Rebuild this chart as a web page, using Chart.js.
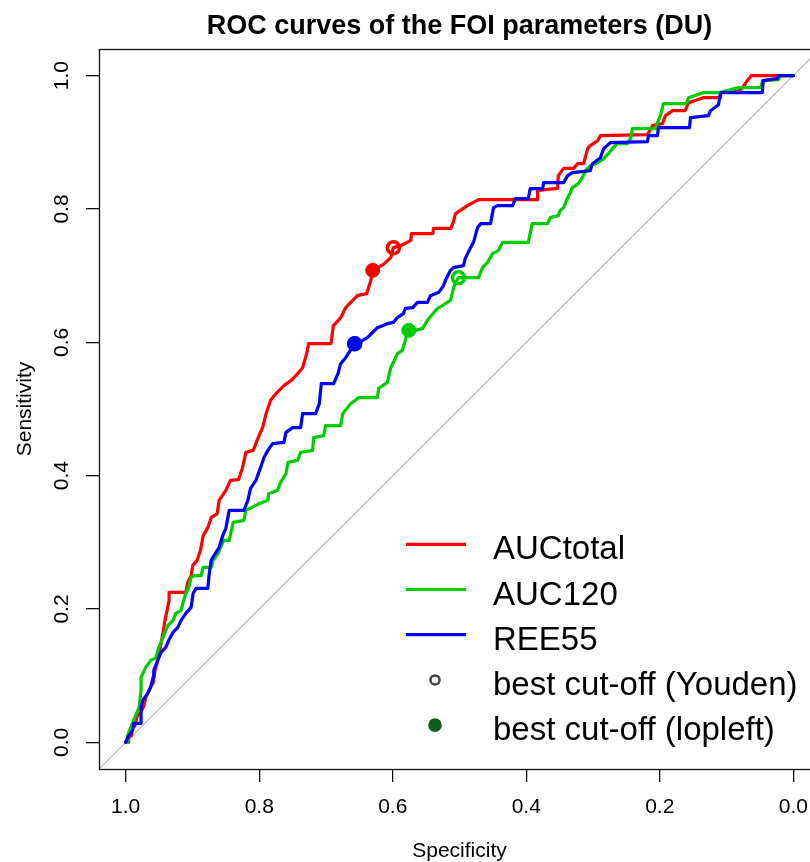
<!DOCTYPE html>
<html>
<head>
<meta charset="utf-8">
<title>ROC curves of the FOI parameters (DU)</title>
<script src="https://cdn.jsdelivr.net/npm/chart.js@4.4.1/dist/chart.umd.min.js"></script>
<style>
  html, body { margin: 0; padding: 0; background: #fff; overflow: hidden; }
  #wrap { width: 810px; height: 862px; overflow: hidden; }
  canvas { display: block; }
</style>
</head>
<body>
<div id="wrap"><canvas id="roc" width="850" height="862"></canvas></div>
<script>
// ── DATA (specificity / sensitivity vertices) ────────────────────────────────
const aucTotalSpec = [1.000,0.9955,0.9955,0.991,0.991,0.9865,0.983,0.9775,0.973,0.970,
  0.967,0.9625,0.959,0.956,0.9535,0.950,0.947,0.944,0.9415,0.938,
  0.935,0.935,0.910,0.907,0.902,0.8995,0.893,0.888,0.884,0.877,
  0.872,0.863,0.860,0.850,0.843,0.831,0.825,0.820,0.809,0.802,
  0.795,0.790,0.783,0.775,0.763,0.752,0.7425,0.735,0.729,0.726,
  0.6925,0.689,0.6815,0.678,0.6705,0.653,0.639,0.633,0.630,0.614,
  0.603,0.599,0.588,0.573,0.572,0.540,0.539,0.513,0.509,0.506,
  0.488,0.4715,0.383,0.383,0.353,0.352,0.344,0.329,0.323,0.314,
  0.308,0.304,0.293,0.289,0.2185,0.211,0.196,0.1915,0.181,0.162,
  0.157,0.135,0.109,0.109,0.082,0.076,0.069,0.063,0];
const aucTotalSens = [0,0,0.0075,0.0105,0.0225,0.024,0.039,0.045,0.054,0.0675,
  0.0735,0.084,0.0885,0.108,0.117,0.1335,0.1485,0.165,0.1815,0.198,
  0.213,0.225,0.225,0.240,0.250,0.2655,0.273,0.288,0.310,0.322,
  0.337,0.343,0.363,0.378,0.393,0.394,0.412,0.435,0.438,0.456,
  0.472,0.492,0.513,0.523,0.535,0.543,0.553,0.562,0.583,0.598,
  0.598,0.625,0.633,0.637,0.652,0.670,0.673,0.6925,0.708,0.717,
  0.727,0.742,0.745,0.753,0.763,0.763,0.771,0.771,0.781,0.793,
  0.805,0.814,0.814,0.828,0.831,0.850,0.861,0.861,0.868,0.868,
  0.891,0.895,0.9025,0.910,0.9115,0.925,0.928,0.940,0.9475,0.9475,
  0.9595,0.967,0.967,0.9745,0.9775,0.982,0.9925,1.0,1.0];

const auc120Spec = [1.000,0.997,0.997,0.9925,0.988,0.980,0.977,0.977,0.970,0.9625,
  0.955,0.9505,0.944,0.937,0.929,0.925,0.917,0.914,0.910,0.9055,
  0.902,0.898,0.887,0.884,0.872,0.869,0.862,0.853,0.845,0.839,
  0.823,0.820,0.802,0.787,0.786,0.7725,0.768,0.760,0.757,0.7425,
  0.738,0.720,0.7185,0.7035,0.7005,0.678,0.675,0.663,0.651,0.623,
  0.621,0.608,0.603,0.599,0.593,0.5855,0.578,0.576,0.566,0.555,
  0.548,0.533,0.5255,0.5135,0.509,0.506,0.5015,0.4715,0.4655,0.458,
  0.4505,0.4415,0.4355,0.397,0.391,0.368,0.364,0.352,0.349,0.344,
  0.338,0.334,0.331,0.322,0.316,0.311,0.304,0.2935,0.284,0.277,
  0.271,0.2635,0.2485,0.244,0.241,0.2065,0.2035,0.199,0.1945,0.160,
  0.157,0.135,0.111,0.082,0.049,0.046,0.022,0.0195,0];
const auc120Sens = [0,0,0.0105,0.0225,0.033,0.0525,0.078,0.0975,0.1125,0.123,
  0.126,0.1425,0.1575,0.1755,0.183,0.1935,0.198,0.210,0.2235,0.2325,
  0.2475,0.250,0.250,0.2625,0.2625,0.273,0.283,0.303,0.303,0.330,
  0.333,0.348,0.357,0.363,0.373,0.378,0.390,0.403,0.420,0.423,
  0.435,0.438,0.457,0.460,0.475,0.475,0.493,0.508,0.517,0.517,
  0.531,0.540,0.562,0.570,0.583,0.588,0.615,0.618,0.618,0.621,
  0.633,0.651,0.655,0.663,0.681,0.690,0.697,0.697,0.712,0.720,
  0.733,0.738,0.750,0.750,0.778,0.778,0.787,0.790,0.798,0.802,
  0.817,0.8245,0.832,0.838,0.847,0.858,0.865,0.869,0.8755,0.883,
  0.8905,0.898,0.898,0.9055,0.9205,0.9205,0.9295,0.940,0.958,0.958,
  0.967,0.9745,0.9745,0.982,0.982,0.9925,0.994,1.0,1.0];

const ree55Spec = [1.000,0.997,0.9895,0.988,0.977,0.977,0.9745,0.967,0.9625,0.959,
  0.958,0.952,0.947,0.940,0.9355,0.929,0.922,0.917,0.910,0.902,
  0.899,0.8945,0.877,0.8755,0.872,0.8695,0.860,0.854,0.850,0.845,
  0.823,0.817,0.813,0.805,0.798,0.793,0.787,0.780,0.763,0.760,
  0.750,0.738,0.735,0.7155,0.710,0.707,0.6885,0.682,0.678,0.6705,
  0.657,0.648,0.638,0.630,0.623,0.608,0.599,0.593,0.584,0.581,
  0.570,0.563,0.548,0.5435,0.531,0.524,0.521,0.5135,0.509,0.494,
  0.491,0.4835,0.479,0.473,0.4685,0.4535,0.449,0.443,0.4205,0.416,
  0.397,0.394,0.3755,0.374,0.344,0.338,0.331,0.304,0.301,0.289,
  0.284,0.274,0.2185,0.217,0.2035,0.202,0.1555,0.154,0.127,0.124,
  0.112,0.109,0.0465,0.045,0.024,0.0225,0];
const ree55Sens = [0,0.0075,0.018,0.0285,0.0285,0.0525,0.063,0.0735,0.0825,0.0975,
  0.108,0.123,0.135,0.1425,0.153,0.165,0.1725,0.183,0.1935,0.2025,
  0.2235,0.231,0.231,0.2475,0.273,0.2775,0.2925,0.312,0.321,0.348,
  0.348,0.363,0.381,0.393,0.412,0.427,0.438,0.448,0.450,0.465,
  0.472,0.472,0.493,0.493,0.508,0.538,0.538,0.553,0.568,0.577,
  0.598,0.601,0.607,0.615,0.622,0.628,0.630,0.637,0.643,0.651,
  0.652,0.660,0.660,0.670,0.675,0.685,0.693,0.708,0.712,0.715,
  0.727,0.742,0.750,0.772,0.778,0.778,0.802,0.805,0.805,0.8155,
  0.8155,0.8305,0.8305,0.8395,0.8395,0.850,0.8545,0.8575,0.868,0.877,
  0.8905,0.8995,0.901,0.910,0.910,0.922,0.922,0.937,0.940,0.9475,
  0.9565,0.9745,0.9745,0.9925,0.9955,1.0,1.0];

// best cut-offs, one per curve (AUCtotal, AUC120, REE55)
const youdenSpec  = [0.599, 0.5015, 0.657];
const youdenSens  = [0.742, 0.697, 0.598];
const topleftSpec = [0.630, 0.576, 0.657];
const topleftSens = [0.708, 0.618, 0.598];

// chance diagonal, corner to corner of the plot region
const diagSpec = [1.04, -0.04];
const diagSens = [-0.04, 1.04];

const tickValues   = [0, 0.2, 0.4, 0.6, 0.8, 1.0];
const seriesNames  = ['AUCtotal', 'AUC120', 'REE55'];
const seriesColors = ['#ff0000', '#00cd00', '#0000ff'];
const legendLabels = ['AUCtotal', 'AUC120', 'REE55', 'best cut-off (Youden)', 'best cut-off (lopleft)'];

// ── HELPERS ──────────────────────────────────────────────────────────────────
const FONT = "'Liberation Sans', Arial, Helvetica, sans-serif";
const toPoints = (xs, ys) => xs.map((x, i) => ({ x, y: ys[i] }));

// R-style full box round the plot region
const boxPlugin = {
  id: 'rBox',
  afterDraw(chart) {
    const { ctx, chartArea: a } = chart;
    ctx.save();
    ctx.strokeStyle = '#111';
    ctx.lineWidth = 1.3;
    ctx.strokeRect(Math.round(a.left) + 0.5, Math.round(a.top) + 0.5,
      Math.round(a.right - a.left), Math.round(a.bottom - a.top));
    ctx.restore();
  }
};

// legend drawn inside the plot, like legend("bottomright", ...)
const legendPlugin = {
  id: 'rLegend',
  afterDraw(chart) {
    const { ctx, chartArea: a } = chart;
    const lx0 = a.left + 307, lx1 = a.left + 367, mx = a.left + 336, tx = a.left + 394;
    const y0 = a.top + 495.3, dy = 45.2;
    ctx.save();
    ctx.font = `33px ${FONT}`;
    ctx.textBaseline = 'alphabetic';
    legendLabels.forEach((label, i) => {
      const y = y0 + i * dy;
      if (i < seriesColors.length) {
        ctx.strokeStyle = seriesColors[i];
        ctx.lineWidth = 3.2;
        ctx.beginPath(); ctx.moveTo(lx0, y); ctx.lineTo(lx1, y); ctx.stroke();
      } else if (i === 3) {
        ctx.strokeStyle = '#444';
        ctx.lineWidth = 2.5;
        ctx.beginPath(); ctx.arc(mx, y, 4.5, 0, Math.PI * 2); ctx.stroke();
      } else {
        ctx.fillStyle = '#0a5f1a';
        ctx.beginPath(); ctx.arc(mx, y, 6.8, 0, Math.PI * 2); ctx.fill();
      }
      ctx.fillStyle = '#000';
      ctx.fillText(label, tx, y + 15);
    });
    ctx.restore();
  }
};

const curve = (i, xs, ys, order) => ({
  label: seriesNames[i],
  data: toPoints(xs, ys),
  showLine: true,
  borderColor: seriesColors[i],
  borderWidth: 3.2,
  borderJoinStyle: 'round',
  borderCapStyle: 'round',
  pointRadius: 0,
  order
});

// ── CHART ────────────────────────────────────────────────────────────────────
new Chart(document.getElementById('roc'), {
  type: 'scatter',
  data: {
    datasets: [
      {
        label: 'chance',
        data: toPoints(diagSpec, diagSens),
        showLine: true,
        borderColor: '#b4b4b4',
        borderWidth: 1.2,
        pointRadius: 0,
        order: 10
      },
      curve(0, aucTotalSpec, aucTotalSens, 5),
      curve(1, auc120Spec, auc120Sens, 4),
      curve(2, ree55Spec, ree55Sens, 3),
      {
        label: 'Youden',
        data: toPoints(youdenSpec, youdenSens),
        pointRadius: 6,
        pointBorderWidth: 3.5,
        pointBackgroundColor: 'rgba(0,0,0,0)',
        pointBorderColor: seriesColors,
        order: 1
      },
      {
        label: 'topleft',
        data: toPoints(topleftSpec, topleftSens),
        pointRadius: 7,
        pointBorderWidth: 1,
        pointBackgroundColor: seriesColors,
        pointBorderColor: seriesColors,
        order: 0
      }
    ]
  },
  options: {
    responsive: false,
    animation: false,
    events: [],
    layout: { padding: { left: 0, right: 30, top: 0, bottom: 0 } },
    scales: {
      x: {
        type: 'linear',
        reverse: true,
        min: -0.04,
        max: 1.04,
        afterBuildTicks: s => { s.ticks = tickValues.map(v => ({ value: v })); },
        afterFit: s => { s.height = 93; },
        border: { display: false },
        grid: { drawOnChartArea: false, drawTicks: true, tickLength: 13, color: '#111', lineWidth: 1.3 },
        ticks: {
          callback: v => Number(v).toFixed(1),
          color: '#000',
          font: { family: FONT, size: 21 },
          padding: 13,
          maxRotation: 0,
          autoSkip: false
        },
        title: {
          display: true,
          text: 'Specificity',
          color: '#000',
          font: { family: FONT, size: 21, lineHeight: 1 },
          padding: { top: 0, bottom: 0 }
        }
      },
      y: {
        type: 'linear',
        min: -0.04,
        max: 1.04,
        afterBuildTicks: s => { s.ticks = tickValues.map(v => ({ value: v })); },
        afterFit: s => { s.width = 99; },
        border: { display: false },
        grid: { drawOnChartArea: false, drawTicks: true, tickLength: 13, color: '#111', lineWidth: 1.3 },
        ticks: {
          callback: v => Number(v).toFixed(1),
          color: '#000',
          font: { family: FONT, size: 21 },
          padding: 9.4,
          minRotation: 90,
          maxRotation: 90,
          crossAlign: 'center',
          autoSkip: false
        },
        title: {
          display: true,
          text: 'Sensitivity',
          color: '#000',
          font: { family: FONT, size: 21, lineHeight: 1 },
          padding: { top: 14.5, bottom: 0 }
        }
      }
    },
    plugins: {
      legend: { display: false },
      tooltip: { enabled: false },
      title: {
        display: true,
        text: 'ROC curves of the FOI parameters (DU)',
        color: '#000',
        fullSize: false,
        font: { family: FONT, size: 27, weight: 'bold', lineHeight: 1.2 },
        padding: { top: 10, bottom: 6.6 }
      }
    }
  },
  plugins: [boxPlugin, legendPlugin]
});
</script>
</body>
</html>
